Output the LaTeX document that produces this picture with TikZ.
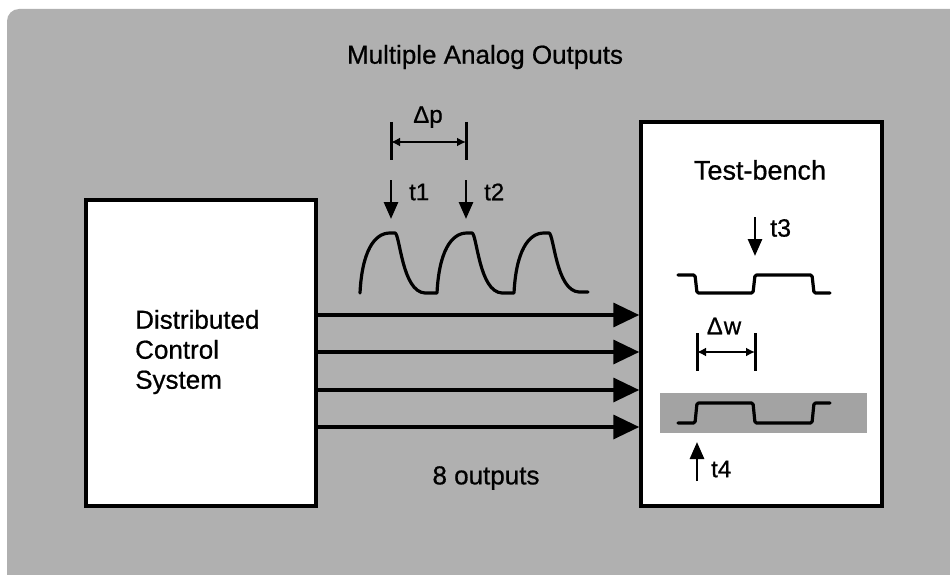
\documentclass[tikz,border=0pt]{standalone}
\usepackage{fontspec}
\setmainfont[FakeBold=0.7]{Liberation Sans}
\usetikzlibrary{arrows.meta}
\definecolor{bggray}{RGB}{176,176,176}
\definecolor{bandgray}{RGB}{163,163,163}
\tikzset{
  box/.style={draw=black, fill=white, line width=3.5pt, inner sep=0pt},
  bigarrow/.style={line width=3.5pt, -{Triangle[length=26pt,width=24pt]}},
  tarrow/.style={line width=2.8pt, -{Triangle[length=17pt,width=14pt]}},
  dimbar/.style={line width=3pt},
  dimarrow/.style={line width=2.4pt, {Latex[length=9pt,width=9pt]}-{Latex[length=9pt,width=9pt]}},
  wave/.style={line width=3.2pt, line join=round, line cap=round},
  lbl/.style={inner sep=0pt, font=\fontsize{24}{28}\selectfont},
  bigtxt/.style={inner sep=0pt, font=\fontsize{26}{30}\selectfont},
}
\begin{document}
\begin{tikzpicture}[x=1pt, y=-1pt]
\useasboundingbox (0,0) rectangle (950,575);
% background
\fill[bggray] (7,575) [rounded corners=12pt] -- (7,9) [sharp corners] -- (950,9) -- (950,575) -- cycle;

% title
\node[bigtxt] (title) at (485,57) {Multiple Analog Outputs};

% DCS box
\node[box, minimum width=230pt, minimum height=306pt] (dcs) at (201,353) {};
\node[bigtxt, anchor=west, align=left] (dcstext) at (135,352) {Distributed\\Control\\System};

% Test-bench box
\node[box, minimum width=241pt, minimum height=384pt] (tb) at (761.5,314) {};
\node[inner sep=0pt, font=\fontsize{27}{31}\selectfont] (tbtitle) at (760,170) {Test-bench};

% output arrows
\foreach \yy in {315,352,390,427} {
  \draw[bigarrow] (dcs.east |- 0,\yy) -- (tb.west |- 0,\yy);
}
\node[bigtxt] (outputs) at (486,478) {8 outputs};

% Delta p dimension
\coordinate (p1) at (391,142);
\coordinate (p2) at (466,142);
\draw[dimbar] (391,122) -- (391,160);
\draw[dimbar] (466,122) -- (466,160);
\draw[dimarrow] (p1) -- (p2);
\node[lbl] (dp) at (428,117) {Δp};

% t1, t2 arrows
\coordinate (t1s) at (391,180);
\coordinate (t1e) at (391,219);
\coordinate (t2s) at (466,180);
\coordinate (t2e) at (466,219);
\draw[tarrow] (t1s) -- (t1e);
\draw[tarrow] (t2s) -- (t2e);
\node[lbl, anchor=west] (t1) at (409,192) {t1};
\node[lbl, anchor=west] (t2) at (484,192) {t2};

% analog waveform
\draw[wave]
  (360,293) .. controls (362,252) and (374,233) .. (390,233) -- (395,233)
  .. controls (400,234) and (402,292) .. (425,293) -- (437,293)
  .. controls (439,252) and (451,233) .. (467,233) -- (472,233)
  .. controls (477,234) and (479,292) .. (502,293) -- (514,293)
  .. controls (516,252) and (528,233) .. (544,233) -- (549,233)
  .. controls (554,234) and (556,291) .. (579,292) -- (588,292);

% t3 arrow and upper square wave
\coordinate (t3s) at (755,217);
\coordinate (t3e) at (755,256);
\draw[tarrow] (t3s) -- (t3e);
\node[inner sep=0pt, font=\fontsize{25}{29}\selectfont, anchor=west] (t3) at (770,228) {t3};
\draw[wave, rounded corners=1.5pt]
  (678,275) -- (695,275) -- (697,293) -- (753,293) -- (755,275)
  -- (812,275) -- (814,293) -- (830,293);

% Delta w dimension
\coordinate (w1) at (697,352);
\coordinate (w2) at (755,352);
\draw[dimbar] (697,333) -- (697,371);
\draw[dimbar] (755,333) -- (755,371);
\draw[dimarrow] (w1) -- (w2);
\node[lbl] (dw) at (724,326) {Δ\hspace{1pt}w};

% gray band with lower square wave
\fill[bandgray] (660,393) rectangle (867,433);
\draw[wave, rounded corners=1.5pt]
  (678,423) -- (695,423) -- (697,403) -- (753,403) -- (755,423)
  -- (812,423) -- (814,403) -- (830,403);

% t4 arrow
\coordinate (t4s) at (697,481);
\coordinate (t4e) at (697,442);
\draw[tarrow] (t4s) -- (t4e);
\node[lbl, anchor=west] (t4) at (711,469) {t4};
\end{tikzpicture}
\end{document}
